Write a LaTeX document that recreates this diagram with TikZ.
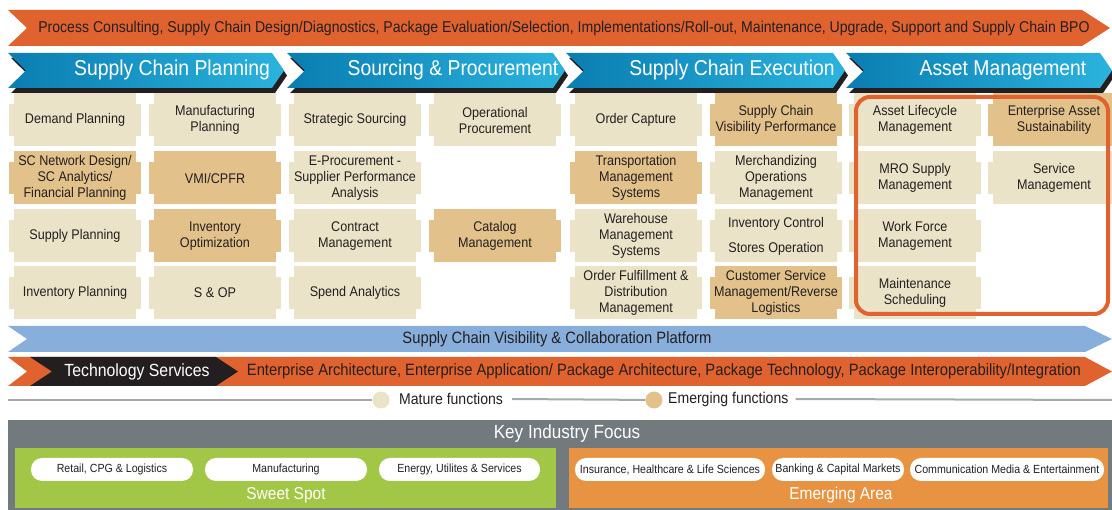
\documentclass[tikz,border=0pt]{standalone}
\usepackage{fontspec}
\setmainfont{Liberation Sans}[FakeStretch=0.9]
\usetikzlibrary{positioning}
\definecolor{bandorange}{HTML}{E0632F}
\definecolor{bandblack}{HTML}{231F20}
\definecolor{chevdark}{HTML}{0A7DB1}
\definecolor{chevlight}{HTML}{2BB3DD}
\definecolor{platblue}{HTML}{88AEDC}
\definecolor{mature}{HTML}{EAE3C7}
\definecolor{emerging}{HTML}{E2C28A}
\definecolor{legline}{HTML}{A5A9AC}
\definecolor{panelgrey}{HTML}{737A7D}
\definecolor{spotgreen}{HTML}{A2C645}
\definecolor{areaorange}{HTML}{E89341}
\tikzset{
  celltext/.style={align=center, text=bandblack, inner sep=0pt, font=\fontsize{14}{16}\selectfont},
  headtext/.style={text=white, inner sep=0pt, font=\fontsize{21.5}{24}\selectfont},
  bandtext/.style={text=bandblack, inner sep=0pt, font=\fontsize{16.4}{19}\selectfont},
  legtext/.style={celltext, font=\fontsize{15.6}{18}\selectfont},
  pill/.style={fill=white, rounded corners=11pt, minimum height=23pt, inner sep=0pt, text=bandblack, font=\fontsize{11.8}{14}\selectfont},
  legdot/.style={circle, minimum size=17pt, inner sep=0pt},
  paneltext/.style={text=white, inner sep=0pt, font=\fontsize{17.2}{20}\selectfont},
}
\newcommand\fcell[5]{%
  \fill[#4] ({#2-61},{#3-26.5}) rectangle ({#2+61},{#3+26.5});
  \fill[#4] ({#2-66},{#3-16}) rectangle ({#2+66},{#3+16});
  \node[celltext] (#1) at (#2,#3) {#5};}
\newcommand\chevron[2]{% left x, right x
  \fill[bandblack, shift={(3,5)}] (#1,53) -- ({#2-12},53) -- (#2,70.5) -- ({#2-12},88) -- (#1,88) -- ({#1+18},70.5) -- cycle;
  \shade[left color=chevdark, right color=chevlight] (#1,53) -- ({#2-12},53) -- (#2,70.5) -- ({#2-12},88) -- (#1,88) -- ({#1+18},70.5) -- cycle;}

\begin{document}
\begin{tikzpicture}[x=1pt, y=-1pt]
  \useasboundingbox (0,0) rectangle (1112,510);
  \fill[white] (0,0) rectangle (1112,510);

  \fill[bandorange] (8,10) -- (1082,10) -- (1110,28) -- (1082,46) -- (8,46) -- (27,28) -- cycle;
  \node[bandtext, font=\fontsize{15.65}{18}\selectfont] (consult) at (564,28) {Process Consulting, Supply Chain Design/Diagnostics, Package Evaluation/Selection, Implementations/Roll-out, Maintenance, Upgrade, Support and Supply Chain BPO};

  \chevron{8}{284}
  \chevron{287}{565}
  \chevron{566}{845}
  \chevron{846}{1112}
  \node[headtext] (scp) at (172,70) {Supply Chain Planning};
  \node[headtext] (spr) at (453,70) {Sourcing \& Procurement};
  \node[headtext] (sce) at (732,70) {Supply Chain Execution};
  \node[headtext] (asm) at (1003,70) {Asset Management};

  \fcell{c11}{75}{120}{mature}{Demand Planning}
  \fcell{c12}{215}{120}{mature}{Manufacturing\\Planning}
  \fcell{c13}{355}{120}{mature}{Strategic Sourcing}
  \fcell{c14}{495}{120}{mature}{Operational\\Procurement}
  \fcell{c15}{636}{120}{mature}{Order Capture}
  \fcell{c16}{776}{120}{emerging}{Supply Chain\\Visibility Performance}
  \fcell{c17}{915}{120}{mature}{Asset Lifecycle\\Management}
  \fcell{c18}{1054}{120}{emerging}{Enterprise Asset\\Sustainability}

  \fcell{c21}{75}{178}{emerging}{SC Network Design/\\SC Analytics/\\Financial Planning}
  \fcell{c22}{215}{178}{emerging}{VMI/CPFR}
  \fcell{c23}{355}{178}{mature}{E-Procurement -\\Supplier Performance\\Analysis}
  \fcell{c25}{636}{178}{emerging}{Transportation\\Management\\Systems}
  \fcell{c26}{776}{178}{mature}{Merchandizing\\Operations\\Management}
  \fcell{c27}{915}{178}{mature}{MRO Supply\\Management}
  \fcell{c28}{1054}{178}{mature}{Service\\Management}

  \fcell{c31}{75}{236}{mature}{Supply Planning}
  \fcell{c32}{215}{236}{emerging}{Inventory\\Optimization}
  \fcell{c33}{355}{236}{mature}{Contract\\Management}
  \fcell{c34}{495}{236}{emerging}{Catalog\\Management}
  \fcell{c35}{636}{236}{mature}{Warehouse\\Management\\Systems}
  \fcell{c36}{776}{236}{mature}{Inventory Control\\[9pt]Stores Operation}
  \fcell{c37}{915}{236}{mature}{Work Force\\Management}

  \fcell{c41}{75}{293}{mature}{Inventory Planning}
  \fcell{c42}{215}{293}{mature}{S \& OP}
  \fcell{c43}{355}{293}{mature}{Spend Analytics}
  \fcell{c45}{636}{293}{mature}{Order Fulfillment \&\\Distribution\\Management}
  \fcell{c46}{776}{293}{emerging}{Customer Service\\Management/Reverse\\Logistics}
  \fcell{c47}{915}{293}{mature}{Maintenance\\Scheduling}

  \draw[bandorange, line width=4pt, rounded corners=14pt] (856,97) rectangle (1108,314);

  \fill[platblue] (8,326) -- (1085,326) -- (1112,339) -- (1085,352) -- (8,352) -- (27,339) -- cycle;
  \node[bandtext] (platform) at (557,339) {Supply Chain Visibility \& Collaboration Platform};

  \fill[bandorange] (8,357) -- (1085,357) -- (1112,371.5) -- (1085,386) -- (8,386) -- (27,371.5) -- cycle;
  \fill[bandblack] (30,357) -- (216,357) -- (238,371.5) -- (216,386) -- (30,386) -- (52,371.5) -- cycle;
  \node[bandtext, text=white, font=\fontsize{17.6}{20}\selectfont] (techsrv) at (137,371.5) {Technology Services};
  \node[bandtext] (techlist) at (664,371.5) {Enterprise Architecture, Enterprise Application/ Package Architecture, Package Technology, Package Interoperability/Integration};

  \coordinate (legL) at (8,400);
  \coordinate (legR) at (1112,400);
  \node[legdot, fill=mature] (matdot) at (381,400) {};
  \node[legtext, anchor=west] (mattxt) at (399,399) {Mature functions};
  \node[legdot, fill=emerging] (emdot) at (654,400) {};
  \node[legtext, anchor=west] (emtxt) at (668,399) {Emerging functions};
  \draw[legline, line width=2pt] (legL) -- (matdot);
  \draw[legline, line width=2pt] ([xshift=9pt]mattxt.east) -- (emdot);
  \draw[legline, line width=2pt] ([xshift=7pt]emtxt.east) -- (legR);

  \fill[panelgrey] (8,420) rectangle (1112,510);
  \node[paneltext, font=\fontsize{19}{22}\selectfont] (focus) at (567,434) {Key Industry Focus};
  \fill[spotgreen] (15,448) rectangle (556,508);
  \fill[areaorange] (569,448) rectangle (1108,508);
  \node[pill, minimum width=162pt] (retail) at (112,469.5) {Retail, CPG \& Logistics};
  \node[pill, minimum width=162pt] (manuf) at (286,469.5) {Manufacturing};
  \node[pill, minimum width=161pt] (energy) at (459.5,469.5) {Energy, Utilites \& Services};
  \node[paneltext] (sweet) at (286,495) {Sweet Spot};
  \node[pill, minimum width=190pt] (insur) at (670,469.5) {Insurance, Healthcare \& Life Sciences};
  \node[pill, minimum width=132pt] (bank) at (838,469.5) {Banking \& Capital Markets};
  \node[pill, minimum width=194pt] (comm) at (1007,469.5) {Communication Media \& Entertainment};
  \node[paneltext] (emarea) at (841,495) {Emerging Area};
\end{tikzpicture}
\end{document}
